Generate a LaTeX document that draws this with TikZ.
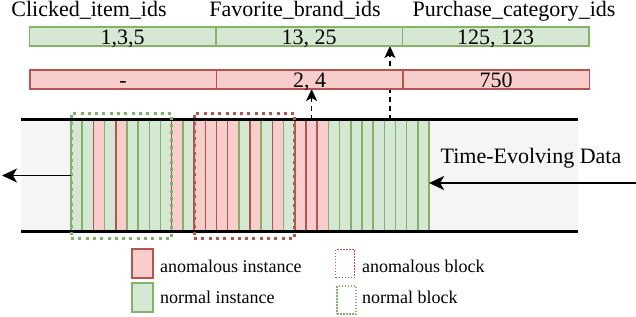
\documentclass[tikz,border=0pt]{standalone}
\usepackage{fontspec}
\setmainfont{Liberation Serif}
\usetikzlibrary{positioning, arrows.meta, fit, backgrounds}
\definecolor{normfill}{HTML}{D5E8D4}
\definecolor{normline}{HTML}{82B366}
\definecolor{anomfill}{HTML}{F8CECC}
\definecolor{anomline}{HTML}{B85450}
\definecolor{bandgray}{HTML}{F5F5F5}

\begin{document}
\begin{tikzpicture}[
        x=1pt, y=-1pt,
        font=\fontsize{22}{24}\selectfont,
        ncell/.style={rectangle, draw=normline, fill=normfill, line width=1.5pt, minimum width=186.5pt, minimum height=19pt, inner sep=0pt, outer sep=0pt, text height=15pt, text depth=0pt},
        acell/.style={ncell, draw=anomline, fill=anomfill},
        stripe-G/.style={rectangle, draw=normline, fill=normfill, line width=1.5pt, minimum width=11.19pt, minimum height=111pt, inner sep=0pt, outer sep=0pt},
        stripe-R/.style={stripe-G, draw=anomline, fill=anomfill},
        band/.style={rectangle, fill=bandgray, minimum width=557pt, minimum height=111pt, inner sep=0pt},
        rail/.style={line width=3pt, black},
        blockbox/.style={rectangle, line width=3pt, dash pattern=on 3pt off 4.3pt, inner xsep=0pt, inner ysep=7pt},
        head/.style={anchor=base, inner sep=0pt},
        flow/.style={-{Stealth[length=15pt, width=14pt, inset=4pt]}, line width=1.5pt},
        pick/.style={-{Stealth[length=12pt, width=11pt, inset=3pt]}, line width=1.5pt, dash pattern=on 5pt off 4pt},
        legbox/.style={rectangle, line width=1.5pt, minimum width=21pt, minimum height=29pt, inner sep=0pt},
        legdot/.style={rectangle, line width=1.5pt, dash pattern=on 1.5pt off 1.5pt, minimum width=19pt, minimum height=28pt, inner sep=0pt},
        legtext/.style={anchor=base west, inner sep=0pt, font=\fontsize{18}{20}\selectfont}
    ]
        \useasboundingbox (0,0) rectangle (636,316);

        % Feature table
        \node[head] (h1) at (89,16.5) {Clicked\_item\_ids};
        \node[head] (h2) at (295,16.5) {Favorite\_brand\_ids};
        \node[head] (h3) at (514,16.5) {Purchase\_category\_ids};

        \node[ncell] (c1) at (122.5,36.5) {1,3,5};
        \node[ncell, right=0pt of c1] (c2) {13, 25};
        \node[ncell, right=0pt of c2] (c3) {125, 123};

        \node[acell] (a1) at (123,79.5) {-};
        \node[acell, right=0pt of a1] (a2) {2, 4};
        \node[acell, right=0pt of a2] (a3) {750};

        % Data stream
        \node[band] (band) at (299.5,175.5) {};
        \foreach \k [count=\i from 0] in {G,G,R,G,R,G,G,G,G,R,G,R,R,R,R,G,R,G,R,G,R,R,R,G,G,G,G,G,G,G,G,G}
            \node[stripe-\k] (s\i) at (76.6+11.19*\i, 175.5) {};
        \draw[rail] (band.north west) -- (band.north east);
        \draw[rail] (band.south west) -- (band.south east);

        % Blocks
        \node[blockbox, draw=normline, fit=(s0)(s8)] (nblk) {};
        \node[blockbox, draw=anomline, fit=(s11)(s19)] (ablk) {};

        \node[head] (tdata) at (531,163.5) {Time-Evolving Data};

        % Arrows
        \coordinate (lout) at (2,175.5);
        \coordinate (rin) at (636,183);
        \draw[flow] (s0.west) -- (lout);
        \draw[flow] (rin) -- (rin -| s31.east);
        \begin{scope}[on background layer]
            \draw[pick] (s21.north) -- (s21.north |- a2.south);
            \draw[pick] (s28.north) -- (s28.north |- c2.south);
        \end{scope}

        % Legend
        \node[legbox, draw=anomline, fill=anomfill] (la) at (142.5,263.5) {};
        \node[legbox, draw=normline, fill=normfill] (ln) at (142.5,297.5) {};
        \node[legdot, draw=anomline] (lab) at (345,263.5) {};
        \node[legdot, draw=normline] (lnb) at (346.5,300) {};
        \node[legtext] (tla) at (160,272) {anomalous instance};
        \node[legtext] (tln) at (160,303) {normal instance};
        \node[legtext] (tlab) at (362,272) {anomalous block};
        \node[legtext] (tlnb) at (362,303) {normal block};
    \end{tikzpicture}
\end{document}
